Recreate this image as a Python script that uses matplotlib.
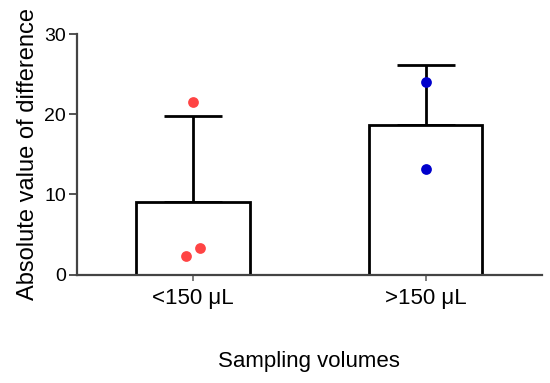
import matplotlib
matplotlib.use("Agg")
import matplotlib.pyplot as plt
import numpy as np

plt.rcParams['font.family'] = ['Liberation Sans', 'DejaVu Sans']

groups = ['<150 μL', '>150 μL']
means = [9.0, 18.6]
sds = [10.8, 7.6]
points_low = [21.5, 2.3, 3.3]
points_high = [24.0, 13.2]
point_offsets_low = [0.0, -0.03, 0.03]
point_offsets_high = [0.0, 0.0]
point_colors = ['#ff4444', '#0000cc']

fig = plt.figure(figsize=(5.5, 3.83), dpi=100)
ax = fig.add_axes([0.14, 0.283, 0.845, 0.628])

x = np.arange(len(groups))
ax.bar(x, means, width=0.49, color='white', edgecolor='black', linewidth=2, zorder=2)
ax.errorbar(x, means, yerr=[np.zeros(len(sds)), sds], fmt='none', ecolor='black',
            elinewidth=2, capsize=21, capthick=2, zorder=1)

ax.scatter(x[0] + np.array(point_offsets_low), points_low, s=60, color=point_colors[0], zorder=3, linewidths=0)
ax.scatter(x[1] + np.array(point_offsets_high), points_high, s=60, color=point_colors[1], zorder=3, linewidths=0)

ax.set_xlim(-0.5, 1.5)
ax.set_ylim(0, 30)
ax.set_yticks([0, 10, 20, 30])
ax.set_xticks(x)
ax.set_xticklabels(groups, fontsize=16)
ax.tick_params(axis='y', labelsize=14, length=6, width=1.3, color='#444444', pad=2)
ax.tick_params(axis='x', length=4, width=1.2, color='#666666', pad=6)

for s in ['top', 'right']:
    ax.spines[s].set_visible(False)
for s in ['left', 'bottom']:
    ax.spines[s].set_linewidth(1.6)
    ax.spines[s].set_color('#444444')

ax.set_ylabel('Absolute value of difference', fontsize=17, labelpad=4)
ax.set_xlabel('Sampling volumes', fontsize=16, labelpad=30)

fig.savefig('out.png', dpi=100)
